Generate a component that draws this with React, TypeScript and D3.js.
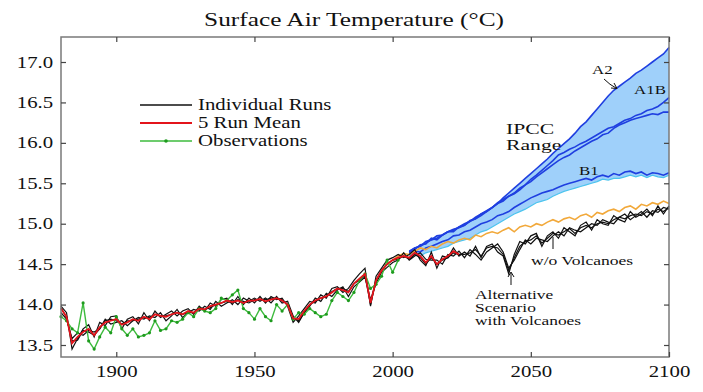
import * as d3 from 'd3'
import React, { useEffect, useRef } from 'react'

// every series is sampled every 2 years
const runStart = 1880
const meanStart = 1880
const obsStart = 1880
const noVolcStart = 2000
const ipccStart = 2006

const xTicks = [1900, 1950, 2000, 2050, 2100]
const yTicks = [13.5, 14.0, 14.5, 15.0, 15.5, 16.0, 16.5, 17.0]

// individual runs (alternative scenario with volcanoes), 1880-2100
const run1 = [
  13.98, 13.9, 13.45, 13.58, 13.7, 13.75, 13.6, 13.78, 13.74, 13.85,
  13.86, 13.7, 13.82, 13.85, 13.76, 13.9, 13.8, 13.92, 13.84, 13.88,
  13.92, 13.86, 13.92, 13.95, 13.88, 13.98, 13.92, 14.02, 13.98, 14.06,
  14.08, 14.0, 14.1, 14.0, 14.08, 14.02, 14.1, 14.02, 14.1, 14.06,
  14.08, 13.98, 13.78, 13.86, 13.95, 14.04, 14.02, 14.12, 14.08, 14.2,
  14.22, 14.15, 14.2, 14.3, 14.38, 14.45, 13.98, 14.35, 14.45, 14.55,
  14.58, 14.62, 14.58, 14.62, 14.68, 14.55, 14.48, 14.65, 14.45, 14.6,
  14.58, 14.7, 14.6,
  14.65, 14.6, 14.72, 14.58, 14.72, 14.75, 14.65, 14.6, 14.38, 14.62,
  14.78, 14.75, 14.85, 14.88, 14.72, 14.85, 14.9, 14.82, 14.95, 14.9,
  14.85, 14.98, 15.02, 14.92, 15.05, 15.0, 14.98, 15.1, 15.05, 15.02,
  15.15, 15.08, 15.12, 15.18, 15.1, 15.22, 15.12, 15.22
]
const run2 = [
  13.9, 13.82, 13.58, 13.65, 13.62, 13.68, 13.66, 13.7, 13.82, 13.76,
  13.78, 13.8, 13.74, 13.8, 13.84, 13.82, 13.86, 13.84, 13.9, 13.8,
  13.86, 13.94, 13.84, 13.9, 13.94, 13.92, 13.98, 13.94, 14.04, 13.98,
  14.02, 14.06, 14.0, 14.08, 14.04, 14.08, 14.04, 14.08, 14.02, 14.1,
  14.02, 14.04, 13.86, 13.78, 13.9, 13.98, 14.08, 14.04, 14.14, 14.1,
  14.18, 14.22, 14.1, 14.22, 14.28, 14.34, 14.06, 14.26, 14.4, 14.46,
  14.52, 14.55, 14.64, 14.55, 14.6, 14.64, 14.56, 14.55, 14.55, 14.5,
  14.62, 14.6, 14.66,
  14.58, 14.68, 14.62, 14.55, 14.65, 14.7, 14.75, 14.65, 14.45, 14.55,
  14.68, 14.8, 14.75, 14.82, 14.8, 14.78, 14.85, 14.9, 14.85, 14.95,
  14.92, 14.9, 14.95, 15.0, 14.98, 15.05, 15.02, 15.0, 15.08, 15.12,
  15.05, 15.1, 15.15, 15.08, 15.16, 15.14, 15.2, 15.18
]
const run3 = [
  13.96, 13.84, 13.55, 13.56, 13.68, 13.66, 13.62, 13.7, 13.8, 13.82,
  13.8, 13.76, 13.8, 13.8, 13.82, 13.84, 13.84, 13.88, 13.86, 13.86,
  13.88, 13.9, 13.88, 13.9, 13.9, 13.96, 13.94, 13.96, 14.0, 14.02,
  14.04, 14.02, 14.06, 14.04, 14.02, 14.06, 14.06, 14.06, 14.08, 14.08,
  14.06, 14.0, 13.84, 13.8, 13.9, 14.0, 14.04, 14.08, 14.1, 14.16,
  14.2, 14.2, 14.16, 14.26, 14.3, 14.36, 14.0, 14.3, 14.42, 14.5,
  14.55, 14.56, 14.6, 14.56, 14.62, 14.58, 14.5, 14.58, 14.5, 14.55,
  14.58, 14.64, 14.62,
  14.62, 14.64, 14.68, 14.6, 14.7, 14.72, 14.7, 14.62, 14.42, 14.58,
  14.72, 14.78, 14.8, 14.85, 14.76, 14.82, 14.88, 14.86, 14.9, 14.94,
  14.88, 14.95, 14.98, 14.95, 15.0, 15.02, 15.0, 15.05, 15.08, 15.06,
  15.1, 15.12, 15.1, 15.15, 15.12, 15.18, 15.15, 15.2
]

// 5 run mean, 1880-2024
const runMean = [
  13.95, 13.85, 13.52, 13.6, 13.66, 13.7, 13.62, 13.72, 13.78, 13.8,
  13.82, 13.75, 13.78, 13.82, 13.8, 13.85, 13.82, 13.88, 13.86, 13.85,
  13.88, 13.9, 13.88, 13.92, 13.9, 13.95, 13.94, 13.98, 14.0, 14.02,
  14.05, 14.03, 14.05, 14.02, 14.05, 14.05, 14.07, 14.04, 14.06, 14.08,
  14.05, 14.0, 13.83, 13.82, 13.92, 14.0, 14.05, 14.08, 14.1, 14.15,
  14.2, 14.18, 14.15, 14.26, 14.32, 14.38, 14.02, 14.3, 14.42, 14.5,
  14.55, 14.58, 14.6, 14.58, 14.64, 14.6, 14.52, 14.6, 14.5, 14.56,
  14.6, 14.66, 14.62
]

// observations, 1880-2002
const observations = [
  13.85, 13.8, 13.7, 13.65, 14.02, 13.55, 13.45, 13.6, 13.72, 13.65,
  13.85, 13.7, 13.62, 13.7, 13.6, 13.62, 13.65, 13.8, 13.68, 13.7,
  13.8, 13.78, 13.82, 13.9, 13.85, 13.95, 13.92, 13.9, 13.95, 14.08,
  14.05, 14.12, 14.18, 13.95, 13.9, 13.82, 13.95, 13.85, 13.8, 14.0,
  13.92, 14.0, 13.82, 13.9, 13.88, 13.95, 13.9, 13.85, 13.88, 14.05,
  14.15, 14.1, 14.05, 14.15, 14.3, 14.38, 14.2, 14.25, 14.35, 14.55,
  14.4, 14.55
]

// without volcanoes, 2000-2100
const noVolcanoes = [
  14.55, 14.6, 14.63, 14.62, 14.66, 14.7, 14.68, 14.72, 14.7, 14.75,
  14.78, 14.76, 14.8, 14.82, 14.8, 14.86, 14.84, 14.88, 14.9, 14.88,
  14.92, 14.95, 14.9, 14.96, 14.98, 14.96, 15.0, 14.98, 15.02, 15.05,
  15.02, 15.06, 15.08, 15.05, 15.1, 15.12, 15.08, 15.14, 15.12, 15.16,
  15.18, 15.15, 15.2, 15.22, 15.18, 15.24, 15.22, 15.26, 15.24, 15.28,
  15.25
]

// IPCC scenarios, 2006-2100
const ipccA2 = [
  14.65, 14.7, 14.72, 14.76, 14.8, 14.82, 14.86, 14.9, 14.92, 14.96,
  14.98, 15.03, 15.06, 15.1, 15.15, 15.2, 15.25, 15.32, 15.38, 15.44,
  15.5, 15.56, 15.62, 15.68, 15.74, 15.8, 15.87, 15.93, 15.99, 16.05,
  16.12, 16.2, 16.26, 16.34, 16.42, 16.5, 16.58, 16.65, 16.7, 16.75,
  16.8, 16.86, 16.9, 16.95, 17.0, 17.05, 17.1, 17.18
]
const ipccA1B = [
  14.64, 14.68, 14.74, 14.75, 14.82, 14.8, 14.86, 14.9, 14.9, 14.96,
  15.0, 15.03, 15.08, 15.12, 15.16, 15.2, 15.26, 15.3, 15.34, 15.38,
  15.44, 15.48, 15.55, 15.6, 15.66, 15.72, 15.78, 15.85, 15.88, 15.92,
  15.95, 15.99, 16.02, 16.06, 16.1, 16.14, 16.18, 16.2, 16.24, 16.28,
  16.3, 16.34, 16.36, 16.4, 16.42, 16.45, 16.5, 16.56
]
const ipccA1Bb = [
  14.66, 14.7, 14.72, 14.78, 14.8, 14.85, 14.86, 14.9, 14.93, 14.95,
  14.98, 15.04, 15.06, 15.12, 15.15, 15.2, 15.25, 15.28, 15.34, 15.37,
  15.42, 15.48, 15.52, 15.58, 15.63, 15.68, 15.73, 15.78, 15.82, 15.85,
  15.9, 15.94, 15.98, 16.02, 16.05, 16.1, 16.12, 16.18, 16.22, 16.25,
  16.28, 16.3, 16.32, 16.34, 16.36, 16.35, 16.38, 16.38
]
const ipccB1 = [
  14.62, 14.66, 14.65, 14.7, 14.72, 14.75, 14.78, 14.8, 14.85, 14.86,
  14.9, 14.92, 14.96, 15.0, 15.02, 15.05, 15.1, 15.12, 15.15, 15.2,
  15.24, 15.28, 15.32, 15.35, 15.38, 15.4, 15.42, 15.45, 15.48, 15.5,
  15.52, 15.54, 15.56, 15.54, 15.58, 15.6, 15.58, 15.62, 15.6, 15.64,
  15.65, 15.62, 15.64, 15.6, 15.63, 15.62, 15.6, 15.63
]
const ipccLow = [
  14.6, 14.62, 14.6, 14.64, 14.66, 14.68, 14.7, 14.72, 14.76, 14.78,
  14.8, 14.82, 14.86, 14.9, 14.92, 14.96, 15.0, 15.04, 15.08, 15.12,
  15.15, 15.18, 15.22, 15.26, 15.28, 15.3, 15.34, 15.37, 15.4, 15.42,
  15.44, 15.46, 15.48, 15.5, 15.52, 15.55, 15.54, 15.56, 15.56, 15.58,
  15.6, 15.58, 15.6, 15.57, 15.6, 15.58, 15.57, 15.6
]

const legendItems = [
  { label: 'Individual Runs', color: '#111' },
  { label: '5 Run Mean', color: '#e3141b' },
  { label: 'Observations', color: '#3dbb3d' }
]

const FONT = "'Liberation Serif', 'Times New Roman', serif"
const STRETCH = 1.3

const toPoints = (start: number, vals: number[]) =>
  vals.map((v, i) => ({ year: start + 2 * i, v }))

export default function App() {
  const ref = useRef<SVGSVGElement>(null)

  useEffect(() => {
    const svg = d3.select(ref.current)
    svg.selectAll('*').remove()

    const left = 61, right = 669, top = 37, bottom = 357
    const x = d3.scaleLinear().domain([1880, 2100]).range([left, right])
    const y = d3.scaleLinear().domain([13.5, 17.0]).range([345, 62])

    const line = d3.line<{ year: number; v: number }>()
      .x(d => x(d.year))
      .y(d => y(d.v))

    const text = (s: string, tx: number, ty: number, size: number, anchor = 'start', sx = STRETCH) =>
      svg.append('text')
        .attr('transform', `translate(${tx},${ty}) scale(${sx},1)`)
        .attr('font-family', FONT)
        .attr('font-size', size)
        .attr('text-anchor', anchor)
        .attr('fill', '#111')
        .text(s)

    svg.append('rect').attr('width', 703).attr('height', 392).attr('fill', '#fff')

    //title
    text('Surface Air Temperature (\u00B0C)', 354, 26, 19.5, 'middle')

    //ipcc range band
    const band = ipccLow.map((lo, i) => ({
      year: ipccStart + 2 * i,
      lo,
      hi: Math.max(ipccA2[i], ipccA1B[i], ipccA1Bb[i], ipccB1[i])
    }))
    svg.append('path')
      .attr('d', d3.area<any>().x(d => x(d.year)).y0(d => y(d.lo)).y1(d => y(d.hi))(band))
      .attr('fill', '#9fd0fa')
    svg.append('path')
      .attr('d', line(toPoints(ipccStart, ipccLow)))
      .attr('fill', 'none').attr('stroke', '#4cc4ee').attr('stroke-width', 1.2)

    for (const s of [ipccB1, ipccA1Bb, ipccA1B, ipccA2]) {
      svg.append('path')
        .attr('d', line(toPoints(ipccStart, s)))
        .attr('fill', 'none').attr('stroke', '#1f3fe0').attr('stroke-width', 1.6)
    }

    //w/o volcanoes
    svg.append('path')
      .attr('d', line(toPoints(noVolcStart, noVolcanoes)))
      .attr('fill', 'none').attr('stroke', '#f2a93b').attr('stroke-width', 1.6)

    //individual runs
    for (const r of [run1, run2, run3]) {
      svg.append('path')
        .attr('d', line(toPoints(runStart, r)))
        .attr('fill', 'none').attr('stroke', '#111').attr('stroke-width', 1.2)
    }

    //observations
    const obs = toPoints(obsStart, observations)
    svg.append('path')
      .attr('d', line(obs))
      .attr('fill', 'none').attr('stroke', '#3dbb3d').attr('stroke-width', 1.4)
    svg.append('g').selectAll('circle').data(obs).join('circle')
      .attr('cx', d => x(d.year)).attr('cy', d => y(d.v)).attr('r', 1.6)
      .attr('fill', '#1e9a1e')

    //mean
    svg.append('path')
      .attr('d', line(toPoints(meanStart, runMean)))
      .attr('fill', 'none').attr('stroke', '#e3141b').attr('stroke-width', 1.8)

    //frame
    svg.append('rect')
      .attr('x', left).attr('y', top)
      .attr('width', right - left).attr('height', bottom - top)
      .attr('fill', 'none').attr('stroke', '#7a7a7a').attr('stroke-width', 1.5)

    //axes
    const styleAxis = (g: any) => {
      g.select('.domain').remove()
      g.selectAll('line').attr('stroke', '#444').attr('stroke-width', 1.2)
      g.selectAll('text')
        .attr('font-family', FONT).attr('font-size', 16).attr('fill', '#111')
        .attr('transform', `scale(${STRETCH},1)`)
    }
    svg.append('g').attr('transform', `translate(0,${bottom})`)
      .call(d3.axisBottom(x).tickValues(xTicks).tickSizeInner(-5).tickSizeOuter(0)
        .tickPadding(9).tickFormat(d3.format('d')) as any)
      .call(styleAxis)
    svg.append('g').attr('transform', `translate(0,${top})`)
      .call(d3.axisTop(x).tickValues(xTicks).tickSizeInner(-5).tickSizeOuter(0)
        .tickFormat(() => '') as any)
      .call(styleAxis)
    svg.append('g').attr('transform', `translate(${left},0)`)
      .call(d3.axisLeft(y).tickValues(yTicks).tickSizeInner(-5).tickSizeOuter(0)
        .tickPadding(6).tickFormat(d3.format('.1f')) as any)
      .call(styleAxis)
    svg.append('g').attr('transform', `translate(${right},0)`)
      .call(d3.axisRight(y).tickValues(yTicks).tickSizeInner(-5).tickSizeOuter(0)
        .tickFormat(() => '') as any)
      .call(styleAxis)

    //legend
    legendItems.forEach((item, i) => {
      const ly = 105 + i * 18
      svg.append('line')
        .attr('x1', 140).attr('x2', 192).attr('y1', ly).attr('y2', ly)
        .attr('stroke', item.color).attr('stroke-width', i === 1 ? 1.8 : 1.4)
      if (i === 2) {
        svg.append('circle').attr('cx', 166).attr('cy', ly).attr('r', 1.8).attr('fill', '#1e9a1e')
      }
      text(item.label, 198, ly + 5, 16)
    })

    //annotations
    text('IPCC', 506, 134, 15.5, 'start', 1.4)
    text('Range', 506, 150, 15.5, 'start', 1.4)
    text('A2', 592, 74, 13)
    text('A1B', 634, 94, 13)
    text('B1', 579, 175, 13)
    svg.append('path')
      .attr('d', 'M604,79 Q610,85 616,88')
      .attr('fill', 'none').attr('stroke', '#111').attr('stroke-width', 1)
    svg.append('path')
      .attr('d', 'M611,88 L617,88.5 L614,83')
      .attr('fill', 'none').attr('stroke', '#111').attr('stroke-width', 1)

    text('w/o Volcanoes', 531, 265, 13.5)
    svg.append('line')
      .attr('x1', 553).attr('x2', 553).attr('y1', 237).attr('y2', 249)
      .attr('stroke', '#111').attr('stroke-width', 1)

    text('Alternative', 475, 299, 12, 'start', 1.45)
    text('Scenario', 475, 312, 12, 'start', 1.45)
    text('with Volcanoes', 475, 325, 12, 'start', 1.45)
    svg.append('line')
      .attr('x1', 511).attr('x2', 511).attr('y1', 273).attr('y2', 285)
      .attr('stroke', '#111').attr('stroke-width', 1)
    svg.append('path')
      .attr('d', 'M508,277 L511,272 L514,277')
      .attr('fill', 'none').attr('stroke', '#111').attr('stroke-width', 1)
  }, [])

  return (
    <svg
      ref={ref}
      width={703}
      height={392}
      style={{ position: 'absolute', left: 0, top: 0 }}
    />
  )
}
